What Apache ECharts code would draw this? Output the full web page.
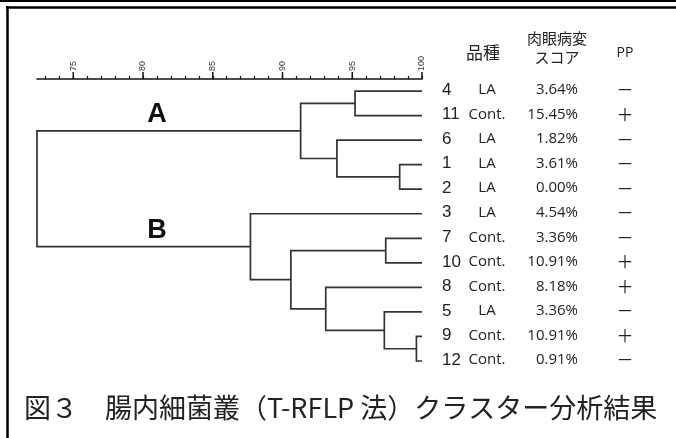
<!DOCTYPE html>
<html><head><meta charset="utf-8">
<script src="https://cdn.jsdelivr.net/npm/echarts@6/dist/echarts.min.js"></script>
<style>html,body{margin:0;padding:0;background:#fff}#c{width:676px;height:438px}</style>
</head><body><div id="c"></div>
<script>
// ---- data ----
const leafLabels = ['4','11','6','1','2','3','7','10','8','5','9','12'];
const breeds = ['LA','Cont.','LA','LA','LA','LA','Cont.','Cont.','Cont.','LA','Cont.','Cont.'];
const scores = ['3.64%','15.45%','1.82%','3.61%','0.00%','4.54%','3.36%','10.91%','8.18%','3.36%','10.91%','0.91%'];
const ppSigns = ['－','＋','－','－','－','－','－','＋','＋','－','＋','－'];
// merges: [childA, childB, similarity]; leaves are 0..11 (row order), new nodes 12..22
const merges = [
  [0, 1, 95.2],
  [3, 4, 98.4],
  [2, 13, 93.9],
  [12, 14, 91.3],
  [6, 7, 97.4],
  [10, 11, 99.6],
  [9, 17, 97.3],
  [8, 18, 93.1],
  [16, 19, 90.6],
  [5, 20, 87.7],
  [15, 21, 72.4]
];
const clusterNames = ['A', 'B'];
const clusterNodes = [15, 21];
const clusterLabelX = 81.0;
const axisMin = 72.4, axisMax = 100;
const majorTicks = [75, 80, 85, 90, 95, 100];
const minorTicks = [73,74,75,76,77,78,79,80,81,82,83,84,85,86,87,88,89,90,91,92,93,94,95,96,97,98,99,100];
const headBreed = '品種', headScore1 = '肉眼病変', headScore2 = 'スコア', headPP = 'PP';
const caption = '図３　腸内細菌叢（T-RFLP 法）クラスター分析結果';

// ---- build tree geometry ----
const yTop = -0.49, yBottom = 11;
const nodeX = [], nodeY = [];
leafLabels.forEach((_, i) => { nodeX[i] = 100; nodeY[i] = i; });
const segs = [];
merges.forEach((m, k) => {
  const id = leafLabels.length + k;
  const [a, b, h] = m;
  nodeX[id] = h; nodeY[id] = (nodeY[a] + nodeY[b]) / 2;
  segs.push({coords: [[nodeX[a], nodeY[a]], [h, nodeY[a]], [h, nodeY[b]], [nodeX[b], nodeY[b]]]});
});

const chart = echarts.init(document.getElementById('c'), null, {renderer: 'canvas'});
const cjk = "'Noto Sans CJK JP', sans-serif";
const lat = "'Open Sans', 'Noto Sans', sans-serif";

chart.setOption({
  animation: false,
  backgroundColor: '#fff',
  grid: {left: 37, right: 254, top: 79, height: 282},
  xAxis: {type: 'value', position: 'top', min: axisMin, max: axisMax,
     axisLine: {show: true, onZero: false, lineStyle: {color: '#111', width: 1.5}},
     axisTick: {show: true, inside: false, customValues: minorTicks, length: 3, lineStyle: {color: '#111', width: 1.2}},
     axisLabel: {show: false}, splitLine: {show: false}},
  yAxis: {type: 'value', inverse: true, min: yTop, max: yBottom, show: false},
  series: [
    {type: 'lines', coordinateSystem: 'cartesian2d', polyline: true, clip: false,
     lineStyle: {color: '#333', width: 1.7, opacity: 1}, data: segs, silent: true},
    // major ticks and their labels
    {type: 'custom', coordinateSystem: 'cartesian2d', clip: false, silent: true,
     data: majorTicks.map(v => [v, yTop]),
     renderItem: function (params, api) {
       const p = api.coord([api.value(0), api.value(1)]);
       return {type: 'group', children: [
         {type: 'line', shape: {x1: p[0], y1: p[1], x2: p[0], y2: p[1] - 7}, style: {stroke: '#111', lineWidth: 1.5}},
         {type: 'text', x: p[0], y: p[1] - 8, rotation: Math.PI / 2,
          style: {text: String(majorTicks[params.dataIndex]), fontSize: 9, fontFamily: 'Liberation Sans', fill: '#333', align: 'left', verticalAlign: 'middle'}}
       ]};
     }},
    {type: 'custom', coordinateSystem: 'cartesian2d', clip: false, silent: true,
     data: leafLabels.map((_, i) => [100, i]),
     renderItem: function (params, api) {
       const i = params.dataIndex;
       const p = api.coord([api.value(0), api.value(1)]);
       const x = p[0], y = p[1] - 1;
       return {type: 'group', children: [
         {type: 'text', style: {text: leafLabels[i], x: x + 20, y: y, fontSize: 17, fontFamily: 'Liberation Sans', fill: '#222', align: 'left', verticalAlign: 'middle'}},
         {type: 'text', style: {text: breeds[i], x: x + 65, y: y, fontSize: 15, fontFamily: lat, fill: '#222', align: 'center', verticalAlign: 'middle'}},
         {type: 'text', style: {text: scores[i], x: x + 156, y: y, fontSize: 15, fontFamily: lat, fill: '#222', align: 'right', verticalAlign: 'middle'}},
         {type: 'text', style: {text: ppSigns[i], x: x + 203, y: y, fontSize: 17, fontFamily: cjk, fill: '#222', align: 'center', verticalAlign: 'middle'}}
       ]};
     }},
    {type: 'custom', coordinateSystem: 'cartesian2d', clip: false, silent: true,
     data: clusterNodes.map(n => [clusterLabelX, nodeY[n]]),
     renderItem: function (params, api) {
       const p = api.coord([api.value(0), api.value(1)]);
       return {type: 'text', style: {text: clusterNames[params.dataIndex], x: p[0], y: p[1] - 16, fontSize: 27, fontWeight: 'bold', fontFamily: 'Liberation Sans', fill: '#111', align: 'center', verticalAlign: 'middle'}};
     }}
  ],
  graphic: [
    {type: 'line', shape: {x1: 0, y1: 1, x2: 676, y2: 1}, style: {stroke: '#000', lineWidth: 2}},
    {type: 'line', shape: {x1: 6, y1: 7.5, x2: 676, y2: 7.5}, style: {stroke: '#000', lineWidth: 2.5}},
    {type: 'line', shape: {x1: 7.5, y1: 6, x2: 7.5, y2: 438}, style: {stroke: '#000', lineWidth: 2.5}},
    {type: 'text', style: {text: headBreed, x: 483, y: 53, fontSize: 17, fontFamily: cjk, fill: '#222', align: 'center', verticalAlign: 'middle'}},
    {type: 'text', style: {text: headScore1, x: 557, y: 38, fontSize: 15, fontFamily: cjk, fill: '#222', align: 'center', verticalAlign: 'middle'}},
    {type: 'text', style: {text: headScore2, x: 557, y: 57, fontSize: 15, fontFamily: cjk, fill: '#222', align: 'center', verticalAlign: 'middle'}},
    {type: 'text', style: {text: headPP, x: 625, y: 53, fontSize: 14, fontFamily: lat, fill: '#222', align: 'center', verticalAlign: 'middle'}},
    {type: 'text', style: {text: caption, x: 24, y: 408, fontSize: 27, fontFamily: cjk, fill: '#222', align: 'left', verticalAlign: 'middle'}}
  ]
});
</script></body></html>
